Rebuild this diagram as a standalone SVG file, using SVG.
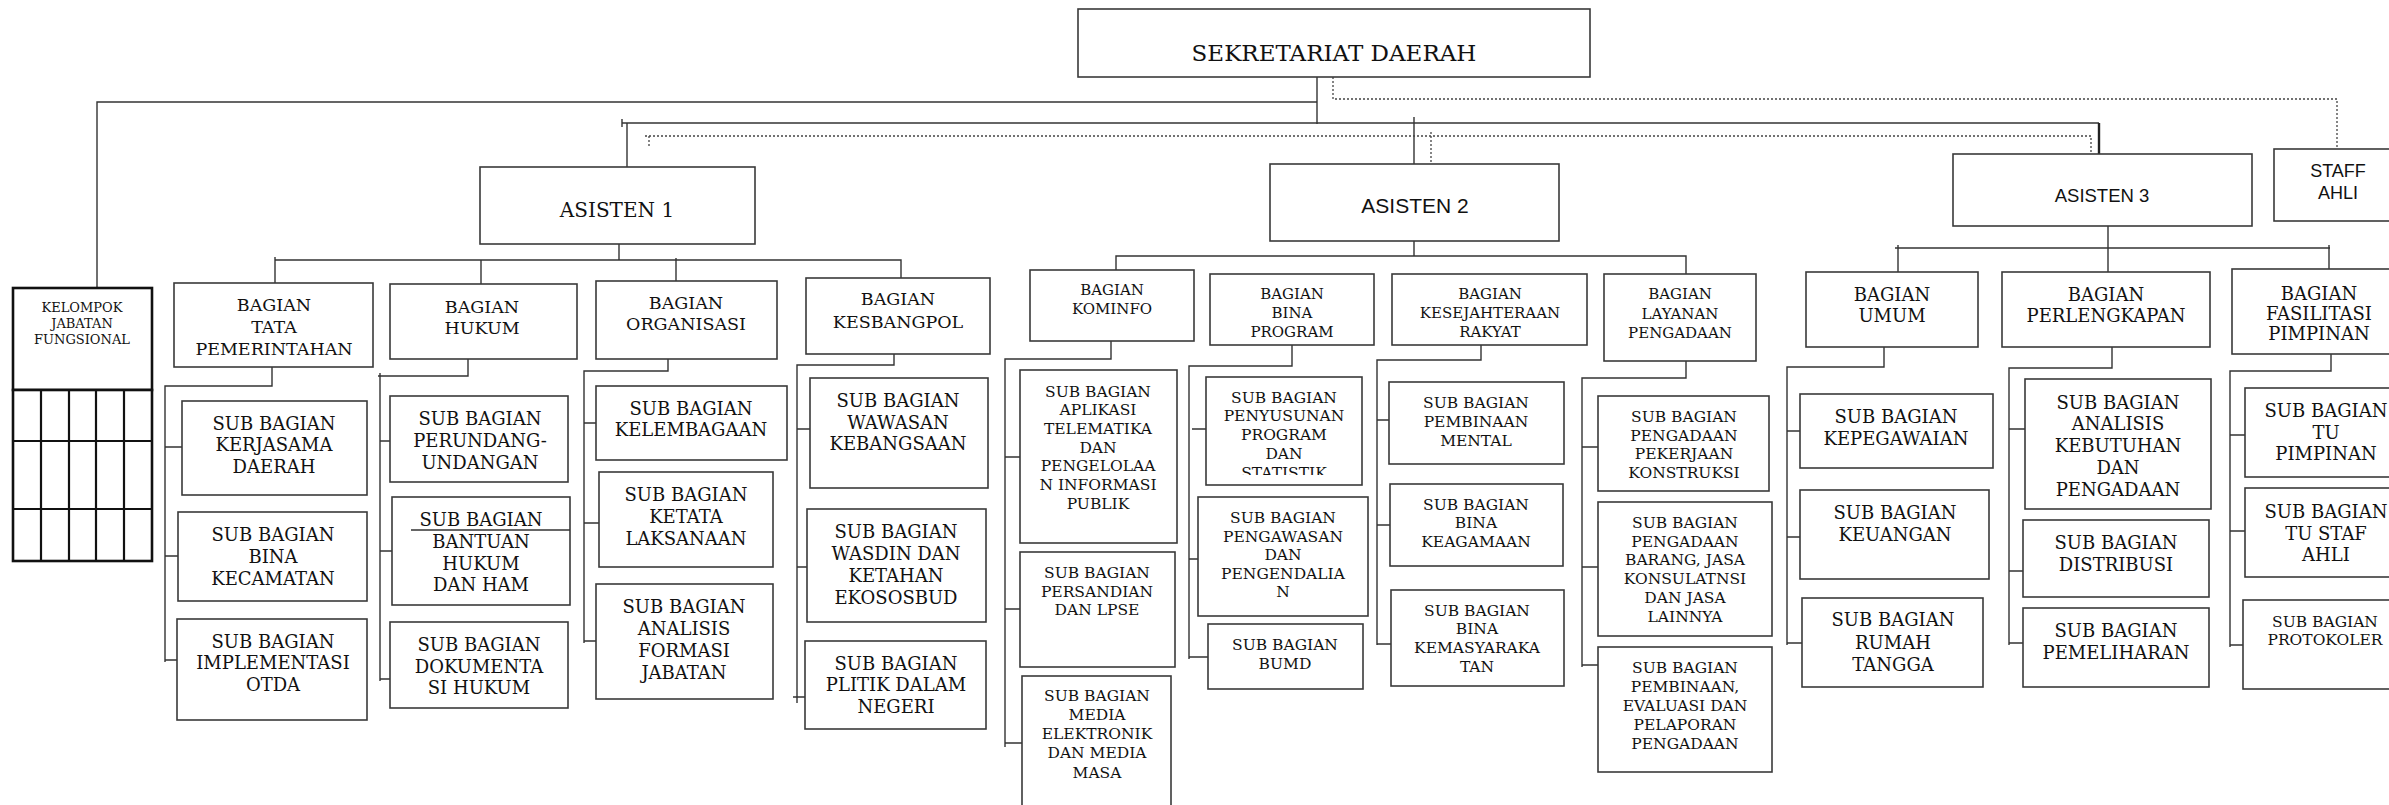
<svg xmlns="http://www.w3.org/2000/svg" width="2389" height="805" viewBox="0 0 2389 805">
<style>
.b{fill:#fff;stroke:#3a3a3a;stroke-width:1.6}
.k{fill:#fff;stroke:#111;stroke-width:2.6}
.g{fill:none;stroke:#111;stroke-width:2.2}
.t{font-family:"DejaVu Serif","Liberation Serif",serif;fill:#111;text-anchor:middle}
.s{font-family:"Liberation Sans",Arial,sans-serif;fill:#111;text-anchor:middle}
.x{font-size:23px}.a{font-size:20px}.L{font-size:18px}.B{font-size:17.5px}.M{font-size:15.5px}.m{font-size:15px}.n{font-size:13px}
.c{fill:none;stroke:#333;stroke-width:1.4}
.h{fill:none;stroke:#222;stroke-width:2.4}
.d{fill:none;stroke:#444;stroke-width:1.3;stroke-dasharray:2 2}
</style>
<defs>
<clipPath id="clipStat"><rect x="1206" y="377" width="156" height="98"/></clipPath>
</defs>

<g id="connectors">
<!-- top level -->
<path class="c" d="M97,288 V102 H1317"/>
<path class="c" d="M1317,75 V124"/>
<path class="c" d="M622,123 H2099"/>
<path class="c" d="M622,119 V127"/>
<path class="c" d="M627,123 V167"/>
<path class="c" d="M1414,117 V164"/>
<path class="h" d="M2099,123 V158"/>
<path class="d" d="M1333,77 V99 H2337 V149"/>
<path class="d" d="M645,136 H2091 V157"/>
<path class="d" d="M649,136 V147"/>
<path class="d" d="M1431,132 V166"/>
<!-- asisten 1 -->
<path class="c" d="M619,240 V260"/>
<path class="c" d="M275,260 H901 V278"/>
<path class="c" d="M275,257 V283"/>
<path class="c" d="M481,260 V284"/>
<path class="c" d="M676,258 V281"/>
<path class="c" d="M272,364 V386 H165 V662"/>
<path class="c" d="M165,447 H182 M165,556 H178 M165,660 H177"/>
<path class="c" d="M468,352 V376 H378"/>
<path class="c" d="M380,373 V681"/>
<path class="c" d="M380,441 H390 M380,551 H392 M380,679 H390"/>
<path class="c" d="M668,350 V371 H584 V643"/>
<path class="c" d="M584,423 H596 M584,523 H599 M584,641 H596"/>
<path class="c" d="M894,348 V365 H797 V703"/>
<path class="c" d="M797,429 H810 M797,567 H807 M793,697 H805"/>
<!-- asisten 2 -->
<path class="c" d="M1414,234 V256"/>
<path class="c" d="M1116,270 V256 H1686 V274"/>
<path class="c" d="M1111,338 V359 H1005 V747"/>
<path class="c" d="M1005,457 H1020 M1005,609 H1020 M1005,743 H1022"/>
<path class="c" d="M1292,343 V366 H1189 V659"/>
<path class="c" d="M1192,429 H1206 M1189,559 H1198 M1189,657 H1208"/>
<path class="c" d="M1481,340 V360 H1377 V645"/>
<path class="c" d="M1377,420 H1389 M1377,525 H1390 M1377,644 H1391"/>
<path class="c" d="M1686,353 V378 H1582 V667"/>
<path class="c" d="M1582,447 H1598 M1582,567 H1598 M1582,665 H1598"/>
<!-- asisten 3 -->
<path class="c" d="M2108,221 V272"/>
<path class="c" d="M1895,248 H2330"/>
<path class="c" d="M1898,245 V272 M2329,245 V269"/>
<path class="c" d="M1884,343 V367 H1787 V645"/>
<path class="c" d="M1787,431 H1800 M1787,537 H1800 M1787,643 H1802"/>
<path class="c" d="M2112,345 V368 H2009 V645"/>
<path class="c" d="M2009,429 H2025 M2009,571 H2023 M2009,643 H2023"/>
<path class="c" d="M2331,350 V371 H2230 V647"/>
<path class="c" d="M2230,435 H2245 M2230,531 H2245 M2230,645 H2243"/>
</g>

<g id="sekretariat-daerah"><rect class="b" x="1078" y="9" width="512" height="68"/><text class="t x" x="1334" y="61.4">SEKRETARIAT DAERAH</text></g>
<g id="asisten-1"><rect class="b" x="480" y="167" width="275" height="77"/><text class="t a" x="617" y="217.3">ASISTEN 1</text></g>
<g id="asisten-2"><rect class="b" x="1270" y="164" width="289" height="77"/><text class="s" style="font-size:21px" x="1415" y="212.5">ASISTEN 2</text></g>
<g id="asisten-3"><rect class="b" x="1953" y="154" width="299" height="72"/><text class="s" style="font-size:18.5px" x="2102" y="201.6">ASISTEN 3</text></g>
<g id="staff-ahli"><rect class="b" x="2274" y="149" width="130" height="72"/><text class="s" style="font-size:18px"><tspan x="2338" y="177.4">STAFF</tspan><tspan x="2338" y="199.4">AHLI</tspan></text></g>

<g id="kelompok-jabatan-fungsional">
<rect class="k" x="13" y="288" width="139" height="102"/>
<rect class="k" x="13" y="390" width="139" height="171"/>
<path class="g" d="M13,441 H152 M13,509 H152 M41,390 V561 M69,390 V561 M96,390 V561 M124,390 V561"/>
<text class="t n"><tspan x="82" y="312">KELOMPOK</tspan><tspan x="82" y="328">JABATAN</tspan><tspan x="82" y="344">FUNGSIONAL</tspan></text>
</g>

<g id="bagian-tata-pemerintahan"><rect class="b" x="174" y="283" width="199" height="84"/><text class="t B"><tspan x="274" y="311.4">BAGIAN</tspan><tspan x="274" y="333.4">TATA</tspan><tspan x="274" y="355.4">PEMERINTAHAN</tspan></text></g>
<g id="bagian-hukum"><rect class="b" x="390" y="284" width="187" height="75"/><text class="t B"><tspan x="482" y="313.4">BAGIAN</tspan><tspan x="482" y="334.4">HUKUM</tspan></text></g>
<g id="bagian-organisasi"><rect class="b" x="596" y="281" width="181" height="78"/><text class="t B"><tspan x="686" y="309.4">BAGIAN</tspan><tspan x="686" y="330.4">ORGANISASI</tspan></text></g>
<g id="bagian-kesbangpol"><rect class="b" x="806" y="278" width="184" height="76"/><text class="t B"><tspan x="898" y="305.4">BAGIAN</tspan><tspan x="898" y="328.4">KESBANGPOL</tspan></text></g>
<g id="bagian-kominfo"><rect class="b" x="1030" y="270" width="164" height="71"/><text class="t m"><tspan x="1112" y="294.5">BAGIAN</tspan><tspan x="1112" y="313.5">KOMINFO</tspan></text></g>
<g id="bagian-bina-program"><rect class="b" x="1210" y="274" width="164" height="71"/><text class="t m"><tspan x="1292" y="298.5">BAGIAN</tspan><tspan x="1292" y="317.5">BINA</tspan><tspan x="1292" y="336.5">PROGRAM</tspan></text></g>
<g id="bagian-kesejahteraan-rakyat"><rect class="b" x="1392" y="274" width="195" height="71"/><text class="t m"><tspan x="1490" y="298.5">BAGIAN</tspan><tspan x="1490" y="317.5">KESEJAHTERAAN</tspan><tspan x="1490" y="336.5">RAKYAT</tspan></text></g>
<g id="bagian-layanan-pengadaan"><rect class="b" x="1604" y="274" width="152" height="87"/><text class="t m"><tspan x="1680" y="298.5">BAGIAN</tspan><tspan x="1680" y="318.5">LAYANAN</tspan><tspan x="1680" y="337.5">PENGADAAN</tspan></text></g>
<g id="bagian-umum"><rect class="b" x="1806" y="272" width="172" height="75"/><text class="t L"><tspan x="1892" y="300.6">BAGIAN</tspan><tspan x="1892" y="321.6">UMUM</tspan></text></g>
<g id="bagian-perlengkapan"><rect class="b" x="2002" y="272" width="208" height="75"/><text class="t L"><tspan x="2106" y="300.6">BAGIAN</tspan><tspan x="2106" y="321.6">PERLENGKAPAN</tspan></text></g>
<g id="bagian-fasilitasi-pimpinan"><rect class="b" x="2232" y="269" width="175" height="85"/><text class="t L"><tspan x="2319" y="299.6">BAGIAN</tspan><tspan x="2319" y="319.6">FASILITASI</tspan><tspan x="2319" y="339.6">PIMPINAN</tspan></text></g>

<g id="sub-kerjasama-daerah"><rect class="b" x="182" y="401" width="185" height="94"/><text class="t L"><tspan x="274" y="429.6">SUB BAGIAN</tspan><tspan x="274" y="450.6">KERJASAMA</tspan><tspan x="274" y="472.6">DAERAH</tspan></text></g>
<g id="sub-bina-kecamatan"><rect class="b" x="178" y="512" width="189" height="89"/><text class="t L"><tspan x="273" y="540.6">SUB BAGIAN</tspan><tspan x="273" y="562.6">BINA</tspan><tspan x="273" y="584.6">KECAMATAN</tspan></text></g>
<g id="sub-implementasi-otda"><rect class="b" x="177" y="619" width="190" height="101"/><text class="t L"><tspan x="273" y="647.6">SUB BAGIAN</tspan><tspan x="273" y="668.6">IMPLEMENTASI</tspan><tspan x="273" y="690.6">OTDA</tspan></text></g>
<g id="sub-perundang-undangan"><rect class="b" x="390" y="396" width="178" height="86"/><text class="t L"><tspan x="480" y="424.6">SUB BAGIAN</tspan><tspan x="480" y="446.6">PERUNDANG-</tspan><tspan x="480" y="468.6">UNDANGAN</tspan></text></g>
<g id="sub-bantuan-hukum"><rect class="b" x="392" y="497" width="178" height="108"/><path class="c" d="M411,530 H570"/><text class="t L"><tspan x="481" y="525.6">SUB BAGIAN</tspan><tspan x="481" y="547.6">BANTUAN</tspan><tspan x="481" y="569.6">HUKUM</tspan><tspan x="481" y="590.6">DAN HAM</tspan></text></g>
<g id="sub-dokumentasi-hukum"><rect class="b" x="390" y="622" width="178" height="86"/><text class="t L"><tspan x="479" y="650.6">SUB BAGIAN</tspan><tspan x="479" y="672.6">DOKUMENTA</tspan><tspan x="479" y="693.6">SI HUKUM</tspan></text></g>
<g id="sub-kelembagaan"><rect class="b" x="596" y="386" width="191" height="74"/><text class="t L"><tspan x="691" y="414.6">SUB BAGIAN</tspan><tspan x="691" y="435.6">KELEMBAGAAN</tspan></text></g>
<g id="sub-ketatalaksanaan"><rect class="b" x="599" y="472" width="174" height="95"/><text class="t L"><tspan x="686" y="500.6">SUB BAGIAN</tspan><tspan x="686" y="522.6">KETATA</tspan><tspan x="686" y="544.6">LAKSANAAN</tspan></text></g>
<g id="sub-analisis-formasi"><rect class="b" x="596" y="584" width="177" height="115"/><text class="t L"><tspan x="684" y="612.6">SUB BAGIAN</tspan><tspan x="684" y="634.6">ANALISIS</tspan><tspan x="684" y="656.6">FORMASI</tspan><tspan x="684" y="678.6">JABATAN</tspan></text></g>
<g id="sub-wawasan-kebangsaan"><rect class="b" x="810" y="378" width="178" height="110"/><text class="t L"><tspan x="898" y="406.6">SUB BAGIAN</tspan><tspan x="898" y="428.6">WAWASAN</tspan><tspan x="898" y="449.6">KEBANGSAAN</tspan></text></g>
<g id="sub-wasdin"><rect class="b" x="807" y="509" width="179" height="113"/><text class="t L"><tspan x="896" y="537.6">SUB BAGIAN</tspan><tspan x="896" y="559.6">WASDIN DAN</tspan><tspan x="896" y="581.6">KETAHAN</tspan><tspan x="896" y="603.6">EKOSOSBUD</tspan></text></g>
<g id="sub-plitik"><rect class="b" x="805" y="641" width="181" height="88"/><text class="t L"><tspan x="896" y="669.6">SUB BAGIAN</tspan><tspan x="896" y="690.6">PLITIK DALAM</tspan><tspan x="896" y="712.6">NEGERI</tspan></text></g>

<g id="sub-aplikasi-telematika"><rect class="b" x="1020" y="370" width="157" height="173"/><text class="t M"><tspan x="1098" y="396.65">SUB BAGIAN</tspan><tspan x="1098" y="414.65">APLIKASI</tspan><tspan x="1098" y="433.65">TELEMATIKA</tspan><tspan x="1098" y="452.65">DAN</tspan><tspan x="1098" y="470.65">PENGELOLAA</tspan><tspan x="1098" y="489.65">N INFORMASI</tspan><tspan x="1098" y="508.65">PUBLIK</tspan></text></g>
<g id="sub-persandian"><rect class="b" x="1020" y="552" width="155" height="115"/><text class="t M"><tspan x="1097" y="577.65">SUB BAGIAN</tspan><tspan x="1097" y="596.65">PERSANDIAN</tspan><tspan x="1097" y="614.65">DAN LPSE</tspan></text></g>
<g id="sub-media-elektronik"><rect class="b" x="1022" y="676" width="149" height="140"/><text class="t M"><tspan x="1097" y="700.65">SUB BAGIAN</tspan><tspan x="1097" y="719.65">MEDIA</tspan><tspan x="1097" y="738.65">ELEKTRONIK</tspan><tspan x="1097" y="757.65">DAN MEDIA</tspan><tspan x="1097" y="777.65">MASA</tspan></text></g>
<g id="sub-penyusunan-program"><rect class="b" x="1206" y="377" width="156" height="108"/><text class="t M" clip-path="url(#clipStat)"><tspan x="1284" y="402.65">SUB BAGIAN</tspan><tspan x="1284" y="420.65">PENYUSUNAN</tspan><tspan x="1284" y="439.65">PROGRAM</tspan><tspan x="1284" y="458.65">DAN</tspan><tspan x="1284" y="477.65">STATISTIK</tspan></text></g>
<g id="sub-pengawasan"><rect class="b" x="1198" y="497" width="170" height="119"/><text class="t M"><tspan x="1283" y="522.65">SUB BAGIAN</tspan><tspan x="1283" y="541.65">PENGAWASAN</tspan><tspan x="1283" y="559.65">DAN</tspan><tspan x="1283" y="578.65">PENGENDALIA</tspan><tspan x="1283" y="596.65">N</tspan></text></g>
<g id="sub-bumd"><rect class="b" x="1208" y="624" width="155" height="65"/><text class="t M"><tspan x="1285" y="649.65">SUB BAGIAN</tspan><tspan x="1285" y="668.65">BUMD</tspan></text></g>
<g id="sub-pembinaan-mental"><rect class="b" x="1389" y="382" width="175" height="82"/><text class="t M"><tspan x="1476" y="407.65">SUB BAGIAN</tspan><tspan x="1476" y="426.65">PEMBINAAN</tspan><tspan x="1476" y="445.65">MENTAL</tspan></text></g>
<g id="sub-bina-keagamaan"><rect class="b" x="1390" y="484" width="173" height="82"/><text class="t M"><tspan x="1476" y="509.65">SUB BAGIAN</tspan><tspan x="1476" y="527.65">BINA</tspan><tspan x="1476" y="546.65">KEAGAMAAN</tspan></text></g>
<g id="sub-bina-kemasyarakatan"><rect class="b" x="1391" y="590" width="173" height="96"/><text class="t M"><tspan x="1477" y="615.65">SUB BAGIAN</tspan><tspan x="1477" y="633.65">BINA</tspan><tspan x="1477" y="652.65">KEMASYARAKA</tspan><tspan x="1477" y="671.65">TAN</tspan></text></g>
<g id="sub-pengadaan-konstruksi"><rect class="b" x="1598" y="396" width="171" height="95"/><text class="t M"><tspan x="1684" y="421.65">SUB BAGIAN</tspan><tspan x="1684" y="440.65">PENGADAAN</tspan><tspan x="1684" y="458.65">PEKERJAAN</tspan><tspan x="1684" y="477.65">KONSTRUKSI</tspan></text></g>
<g id="sub-pengadaan-barang-jasa"><rect class="b" x="1598" y="502" width="174" height="134"/><text class="t M"><tspan x="1685" y="527.65">SUB BAGIAN</tspan><tspan x="1685" y="546.65">PENGADAAN</tspan><tspan x="1685" y="564.65">BARANG, JASA</tspan><tspan x="1685" y="583.65">KONSULATNSI</tspan><tspan x="1685" y="602.65">DAN JASA</tspan><tspan x="1685" y="621.65">LAINNYA</tspan></text></g>
<g id="sub-pembinaan-evaluasi"><rect class="b" x="1598" y="647" width="174" height="125"/><text class="t M"><tspan x="1685" y="672.65">SUB BAGIAN</tspan><tspan x="1685" y="691.65">PEMBINAAN,</tspan><tspan x="1685" y="710.65">EVALUASI DAN</tspan><tspan x="1685" y="729.65">PELAPORAN</tspan><tspan x="1685" y="748.65">PENGADAAN</tspan></text></g>

<g id="sub-kepegawaian"><rect class="b" x="1800" y="394" width="193" height="74"/><text class="t L"><tspan x="1896" y="422.6">SUB BAGIAN</tspan><tspan x="1896" y="444.6">KEPEGAWAIAN</tspan></text></g>
<g id="sub-keuangan"><rect class="b" x="1800" y="490" width="189" height="89"/><text class="t L"><tspan x="1895" y="518.6">SUB BAGIAN</tspan><tspan x="1895" y="540.6">KEUANGAN</tspan></text></g>
<g id="sub-rumah-tangga"><rect class="b" x="1802" y="598" width="181" height="89"/><text class="t L"><tspan x="1893" y="625.6">SUB BAGIAN</tspan><tspan x="1893" y="648.6">RUMAH</tspan><tspan x="1893" y="670.6">TANGGA</tspan></text></g>
<g id="sub-analisis-kebutuhan"><rect class="b" x="2025" y="379" width="186" height="130"/><text class="t L"><tspan x="2118" y="408.6">SUB BAGIAN</tspan><tspan x="2118" y="429.6">ANALISIS</tspan><tspan x="2118" y="451.6">KEBUTUHAN</tspan><tspan x="2118" y="473.6">DAN</tspan><tspan x="2118" y="495.6">PENGADAAN</tspan></text></g>
<g id="sub-distribusi"><rect class="b" x="2023" y="520" width="186" height="77"/><text class="t L"><tspan x="2116" y="548.6">SUB BAGIAN</tspan><tspan x="2116" y="570.6">DISTRIBUSI</tspan></text></g>
<g id="sub-pemeliharan"><rect class="b" x="2023" y="608" width="186" height="79"/><text class="t L"><tspan x="2116" y="636.6">SUB BAGIAN</tspan><tspan x="2116" y="658.6">PEMELIHARAN</tspan></text></g>
<g id="sub-tu-pimpinan"><rect class="b" x="2245" y="388" width="165" height="89"/><text class="t L"><tspan x="2326" y="416.6">SUB BAGIAN</tspan><tspan x="2326" y="438.6">TU</tspan><tspan x="2326" y="459.6">PIMPINAN</tspan></text></g>
<g id="sub-tu-staf-ahli"><rect class="b" x="2245" y="488" width="165" height="89"/><text class="t L"><tspan x="2326" y="517.6">SUB BAGIAN</tspan><tspan x="2326" y="539.6">TU STAF</tspan><tspan x="2326" y="560.6">AHLI</tspan></text></g>
<g id="sub-protokoler"><rect class="b" x="2243" y="600" width="167" height="89"/><text class="t M"><tspan x="2325" y="626.65">SUB BAGIAN</tspan><tspan x="2325" y="644.65">PROTOKOLER</tspan></text></g>
</svg>
